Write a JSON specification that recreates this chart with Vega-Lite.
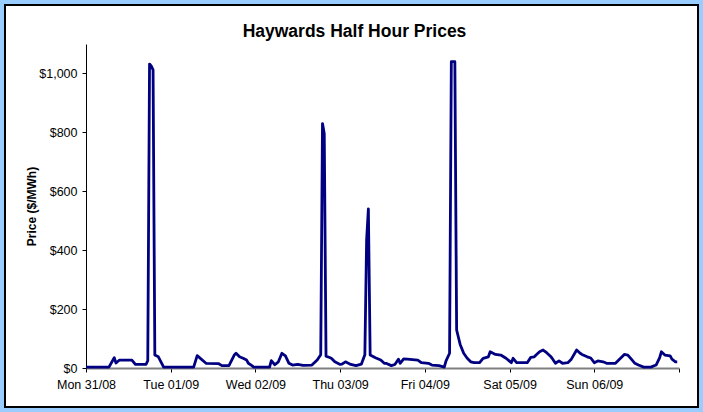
{
  "$schema": "https://vega.github.io/schema/vega-lite/v6.json",
  "width": 693,
  "height": 402,
  "autosize": {"type": "none"},
  "padding": 5,
  "background": "#99CCFF",
  "title": {"text": "Haywards Half Hour Prices", "font": "Liberation Sans", "fontSize": 17.5, "fontWeight": "bold", "color": "black", "anchor": "middle", "frame": "group", "baseline": "alphabetic", "offset": -49, "dx": 3},
  "config": {"view": {"stroke": "black", "strokeWidth": 2, "fill": "white"}},
  "data": {"values": [
    {"time": "2009-08-31T00:00", "price": 3},
    {"time": "2009-08-31T06:30", "price": 3},
    {"time": "2009-08-31T08:00", "price": 35},
    {"time": "2009-08-31T08:30", "price": 17},
    {"time": "2009-08-31T09:30", "price": 27},
    {"time": "2009-08-31T13:00", "price": 27},
    {"time": "2009-08-31T14:00", "price": 12},
    {"time": "2009-08-31T17:00", "price": 12},
    {"time": "2009-08-31T17:30", "price": 25},
    {"time": "2009-08-31T18:00", "price": 1032},
    {"time": "2009-08-31T18:30", "price": 1025},
    {"time": "2009-08-31T19:00", "price": 1012},
    {"time": "2009-08-31T19:30", "price": 44},
    {"time": "2009-08-31T20:30", "price": 38},
    {"time": "2009-08-31T22:00", "price": 3},
    {"time": "2009-09-01T06:30", "price": 3},
    {"time": "2009-09-01T07:30", "price": 42},
    {"time": "2009-09-01T10:00", "price": 16},
    {"time": "2009-09-01T13:30", "price": 15},
    {"time": "2009-09-01T14:30", "price": 8},
    {"time": "2009-09-01T16:30", "price": 8},
    {"time": "2009-09-01T18:00", "price": 44},
    {"time": "2009-09-01T18:30", "price": 50},
    {"time": "2009-09-01T19:30", "price": 38},
    {"time": "2009-09-01T20:30", "price": 33},
    {"time": "2009-09-01T21:30", "price": 27},
    {"time": "2009-09-01T22:00", "price": 16},
    {"time": "2009-09-01T23:00", "price": 8},
    {"time": "2009-09-01T23:30", "price": 3},
    {"time": "2009-09-02T04:00", "price": 3},
    {"time": "2009-09-02T04:30", "price": 25},
    {"time": "2009-09-02T05:30", "price": 11},
    {"time": "2009-09-02T06:30", "price": 21},
    {"time": "2009-09-02T07:30", "price": 50},
    {"time": "2009-09-02T08:30", "price": 41},
    {"time": "2009-09-02T09:30", "price": 16},
    {"time": "2009-09-02T10:30", "price": 10},
    {"time": "2009-09-02T12:00", "price": 12},
    {"time": "2009-09-02T13:30", "price": 9},
    {"time": "2009-09-02T16:00", "price": 10},
    {"time": "2009-09-02T17:30", "price": 27},
    {"time": "2009-09-02T18:30", "price": 45},
    {"time": "2009-09-02T19:00", "price": 830},
    {"time": "2009-09-02T19:30", "price": 795},
    {"time": "2009-09-02T20:00", "price": 40},
    {"time": "2009-09-02T20:30", "price": 38},
    {"time": "2009-09-02T21:30", "price": 33},
    {"time": "2009-09-02T22:30", "price": 21},
    {"time": "2009-09-03T00:00", "price": 12},
    {"time": "2009-09-03T00:30", "price": 13},
    {"time": "2009-09-03T01:30", "price": 21},
    {"time": "2009-09-03T03:00", "price": 12},
    {"time": "2009-09-03T04:30", "price": 8},
    {"time": "2009-09-03T06:00", "price": 13},
    {"time": "2009-09-03T07:00", "price": 45},
    {"time": "2009-09-03T07:30", "price": 435},
    {"time": "2009-09-03T08:00", "price": 540},
    {"time": "2009-09-03T08:30", "price": 44},
    {"time": "2009-09-03T10:00", "price": 35},
    {"time": "2009-09-03T11:30", "price": 27},
    {"time": "2009-09-03T12:30", "price": 16},
    {"time": "2009-09-03T13:00", "price": 16},
    {"time": "2009-09-03T14:30", "price": 8},
    {"time": "2009-09-03T15:30", "price": 12},
    {"time": "2009-09-03T16:30", "price": 30},
    {"time": "2009-09-03T17:00", "price": 16},
    {"time": "2009-09-03T18:00", "price": 31},
    {"time": "2009-09-03T19:00", "price": 30},
    {"time": "2009-09-03T22:00", "price": 27},
    {"time": "2009-09-03T23:00", "price": 18},
    {"time": "2009-09-04T01:00", "price": 16},
    {"time": "2009-09-04T02:00", "price": 10},
    {"time": "2009-09-04T04:00", "price": 8},
    {"time": "2009-09-04T05:30", "price": 3},
    {"time": "2009-09-04T06:00", "price": 24},
    {"time": "2009-09-04T07:00", "price": 50},
    {"time": "2009-09-04T07:30", "price": 1040},
    {"time": "2009-09-04T08:00", "price": 1040},
    {"time": "2009-09-04T08:30", "price": 1040},
    {"time": "2009-09-04T09:00", "price": 129},
    {"time": "2009-09-04T10:00", "price": 80},
    {"time": "2009-09-04T11:00", "price": 50},
    {"time": "2009-09-04T12:00", "price": 33},
    {"time": "2009-09-04T13:00", "price": 21},
    {"time": "2009-09-04T14:00", "price": 18},
    {"time": "2009-09-04T15:30", "price": 18},
    {"time": "2009-09-04T16:30", "price": 33},
    {"time": "2009-09-04T18:00", "price": 38},
    {"time": "2009-09-04T18:30", "price": 55},
    {"time": "2009-09-04T20:00", "price": 46},
    {"time": "2009-09-04T21:30", "price": 44},
    {"time": "2009-09-04T23:00", "price": 33},
    {"time": "2009-09-05T00:30", "price": 18},
    {"time": "2009-09-05T01:00", "price": 33},
    {"time": "2009-09-05T02:00", "price": 18},
    {"time": "2009-09-05T05:00", "price": 18},
    {"time": "2009-09-05T06:00", "price": 36},
    {"time": "2009-09-05T07:00", "price": 38},
    {"time": "2009-09-05T07:30", "price": 44},
    {"time": "2009-09-05T08:30", "price": 55},
    {"time": "2009-09-05T09:30", "price": 61},
    {"time": "2009-09-05T10:30", "price": 52},
    {"time": "2009-09-05T11:30", "price": 41},
    {"time": "2009-09-05T12:00", "price": 34},
    {"time": "2009-09-05T13:00", "price": 16},
    {"time": "2009-09-05T14:00", "price": 24},
    {"time": "2009-09-05T15:00", "price": 16},
    {"time": "2009-09-05T16:30", "price": 18},
    {"time": "2009-09-05T17:30", "price": 30},
    {"time": "2009-09-05T19:00", "price": 61},
    {"time": "2009-09-05T20:00", "price": 50},
    {"time": "2009-09-05T20:30", "price": 46},
    {"time": "2009-09-05T22:00", "price": 38},
    {"time": "2009-09-05T23:00", "price": 34},
    {"time": "2009-09-06T00:00", "price": 18},
    {"time": "2009-09-06T01:00", "price": 24},
    {"time": "2009-09-06T02:30", "price": 21},
    {"time": "2009-09-06T03:30", "price": 16},
    {"time": "2009-09-06T06:00", "price": 16},
    {"time": "2009-09-06T07:30", "price": 34},
    {"time": "2009-09-06T08:30", "price": 46},
    {"time": "2009-09-06T09:30", "price": 44},
    {"time": "2009-09-06T10:30", "price": 30},
    {"time": "2009-09-06T11:30", "price": 16},
    {"time": "2009-09-06T12:30", "price": 10},
    {"time": "2009-09-06T14:00", "price": 3},
    {"time": "2009-09-06T16:00", "price": 3},
    {"time": "2009-09-06T17:30", "price": 10},
    {"time": "2009-09-06T18:30", "price": 34},
    {"time": "2009-09-06T19:00", "price": 55},
    {"time": "2009-09-06T20:00", "price": 44},
    {"time": "2009-09-06T21:30", "price": 41},
    {"time": "2009-09-06T22:00", "price": 30},
    {"time": "2009-09-06T23:00", "price": 21},
    {"time": "2009-09-06T23:30", "price": 21}
  ]},
  "mark": {"type": "line", "color": "#000080", "strokeWidth": 2.8, "strokeJoin": "round"},
  "encoding": {
    "x": {
      "field": "time",
      "type": "temporal",
      "scale": {
        "domain": [{"year": 2009, "month": "August", "date": 31}, {"year": 2009, "month": "September", "date": 7}],
        "range": [81, 674]
      },
      "axis": {
        "values": [
          {"year": 2009, "month": "August", "date": 31},
          {"year": 2009, "month": "September", "date": 1},
          {"year": 2009, "month": "September", "date": 2},
          {"year": 2009, "month": "September", "date": 3},
          {"year": 2009, "month": "September", "date": 4},
          {"year": 2009, "month": "September", "date": 5},
          {"year": 2009, "month": "September", "date": 6},
          {"year": 2009, "month": "September", "date": 7}
        ],
        "labelExpr": "(month(datum.value) == 8 && date(datum.value) == 7) ? '' : timeFormat(datum.value, '%a %d/%m')",
        "orient": "bottom",
        "offset": -39,
        "title": null,
        "grid": false,
        "domainColor": "#808080",
        "domainWidth": 2,
        "tickColor": "black",
        "tickSize": 4,
        "labelPadding": 6,
        "labelFont": "Liberation Sans",
        "labelFontSize": 12.5,
        "labelColor": "black",
        "labelFlush": false,
        "labelOverlap": false
      }
    },
    "y": {
      "field": "price",
      "type": "quantitative",
      "scale": {"domain": [0, 1100], "range": [363, 39], "nice": false, "zero": true},
      "axis": {
        "values": [0, 200, 400, 600, 800, 1000],
        "format": "$,.0f",
        "orient": "left",
        "offset": -81,
        "title": "Price ($/MWh)",
        "titleFont": "Liberation Sans",
        "titleFontSize": 12,
        "titleFontWeight": "bold",
        "titleColor": "black",
        "titlePadding": 0,
        "grid": false,
        "domainColor": "black",
        "domainWidth": 1,
        "tickColor": "black",
        "tickSize": 4,
        "labelPadding": 5,
        "labelFont": "Liberation Sans",
        "labelFontSize": 12.5,
        "labelColor": "black",
        "labelOverlap": false
      }
    }
  }
}
